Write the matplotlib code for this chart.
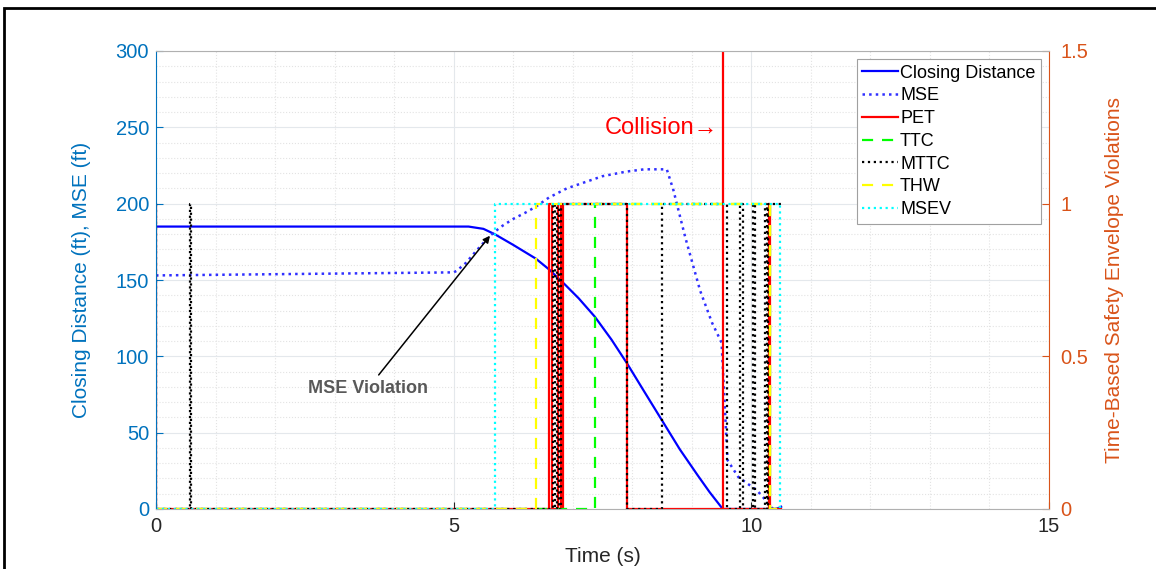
import numpy as np
import matplotlib
matplotlib.use("Agg")
import matplotlib.pyplot as plt
from matplotlib.patches import Rectangle
from matplotlib.ticker import MultipleLocator

plt.rcParams['font.family'] = ['Liberation Sans', 'DejaVu Sans']

# closing distance between vehicles (ft)
cd_t = [0, 5.25, 5.5, 5.69, 6.0, 6.38, 6.6, 6.87, 7.1, 7.37, 7.65, 7.91, 8.2, 8.5, 8.8, 9.1, 9.3, 9.52, 10.4, 10.45, 10.5]
cd_v = [185, 185, 183.5, 180, 173, 164, 157, 147, 138, 126, 111, 95.5, 77, 58, 39, 22, 11, 0, 0, 0.5, 1.5]

# minimum safety envelope (ft)
mse_t = [0, 5.0, 5.05, 5.2, 5.4, 5.61, 5.8, 6.0, 6.2, 6.38, 6.6, 6.9, 7.2, 7.5, 7.9, 8.2, 8.58,
         8.69, 8.89, 9.14, 9.34, 9.5, 9.6, 9.78, 10.1, 10.28, 10.35, 10.5]
mse_v = [153, 155, 156, 161, 170, 179, 185, 190, 194, 198, 204, 210, 214, 218, 221, 222.5, 222.5,
         209, 178, 143, 122, 109, 32, 21, 12, 4, 0.5, 0.5]

# violation flags: initial state and switching times (s)
t_end = 10.5
pet_start, pet_sw = 1, [0.0, 6.60, 6.65, 6.76, 6.80, 6.84, 7.91, 10.30, 10.32]
ttc_start, ttc_sw = 0, [7.37, 10.31]
mttc_start, mttc_sw = 1, [0.0, 0.57, 0.58, 6.67, 6.70, 6.73, 6.77, 6.81, 7.91, 8.50, 9.59,
                          9.81, 9.86, 10.03, 10.06, 10.23, 10.26, 10.28]
thw_start, thw_sw = 0, [6.38, 10.31]
msev_start, msev_sw = 0, [5.69, 10.48]

t_collision = 9.52


def steps(v0, sw, tend):
    t = [0.0]
    v = [v0]
    cur = v0
    for s in sw:
        t += [s, s]
        v += [cur, 1 - cur]
        cur = 1 - cur
    t.append(tend)
    v.append(cur)
    return t, v


blue_ax = '#0072BD'
orange_ax = '#D95319'

fig = plt.figure(figsize=(11.56, 5.69), dpi=100)
ax = fig.add_axes([156 / 1156, 60 / 569, 893 / 1156, 458 / 569])
ax2 = ax.twinx()

l1, = ax.plot(cd_t, cd_v, color='#0000FF', lw=1.6, label='Closing Distance')
l2, = ax.plot(mse_t, mse_v, color='#3030FF', lw=1.8, ls=':', label='MSE')
ax.axvline(t_collision, color='#FF0000', lw=1.6)

t, v = steps(pet_start, pet_sw, t_end)
l3, = ax2.plot(t, v, color='#FF0000', lw=1.6, label='PET')
t, v = steps(ttc_start, ttc_sw, t_end)
l4, = ax2.plot(t, v, color='#00FF00', lw=1.6, ls=(0, (5, 4)), label='TTC')
t, v = steps(mttc_start, mttc_sw, t_end)
l5, = ax2.plot(t, v, color='black', lw=1.6, ls=':', label='MTTC')
t, v = steps(thw_start, thw_sw, t_end)
l6, = ax2.plot(t, v, color='#FFFF00', lw=1.6, ls=(0, (5, 4)), label='THW')
t, v = steps(msev_start, msev_sw, t_end)
l7, = ax2.plot(t, v, color='#00FFFF', lw=1.6, ls=':', label='MSEV')

ax.set_xlim(0, 15)
ax.set_ylim(0, 300)
ax2.set_ylim(0, 1.5)
ax.set_xticks([0, 5, 10, 15])
ax.set_yticks(np.arange(0, 301, 50))
ax2.set_yticks([0, 0.5, 1, 1.5])
ax2.set_yticklabels(['0', '0.5', '1', '1.5'])
ax.xaxis.set_minor_locator(MultipleLocator(1))
ax.yaxis.set_minor_locator(MultipleLocator(10))

ax.grid(True, which='major', color='#e4e8ec', lw=0.8)
ax.grid(True, which='minor', color='#e3e3e3', lw=0.8, ls=':')
ax.set_axisbelow(True)

ax.tick_params(axis='x', which='both', direction='in', colors='#262626', labelsize=14.5, length=5, pad=6)
ax.tick_params(axis='x', which='minor', length=0)
ax.tick_params(axis='y', which='both', direction='in', colors=blue_ax, labelsize=14.5, length=5, pad=5)
ax.tick_params(axis='y', which='minor', length=0)
ax2.tick_params(axis='y', direction='in', colors=orange_ax, labelsize=14.5, length=5, pad=8)

for sp in ['top', 'bottom']:
    ax2.spines[sp].set_color('#b0b0b0')
ax2.spines['left'].set_color(blue_ax)
ax2.spines['right'].set_color(orange_ax)
for sp in ax.spines.values():
    sp.set_visible(False)

ax.set_xlabel('Time (s)', fontsize=15, color='#262626', labelpad=8)
ax.set_ylabel('Closing Distance (ft), MSE (ft)', fontsize=15, color=blue_ax, labelpad=18)
ax2.set_ylabel('Time-Based Safety Envelope Violations', fontsize=15, color=orange_ax, labelpad=12)

ax.text(9.44, 249.5, 'Collision\u2192', color='#FF0000', fontsize=17, ha='right', va='center')
ax.annotate('MSE Violation', xy=(5.61, 179), xytext=(3.56, 79), fontsize=13, fontweight='bold',
            color='#595959', ha='center', va='center',
            arrowprops=dict(arrowstyle='-|>', color='black', lw=1.1, mutation_scale=10, shrinkA=2, shrinkB=0))

leg = ax2.legend(handles=[l1, l2, l3, l4, l5, l6, l7], loc='upper right', fontsize=13,
                 fancybox=False, edgecolor='#a0a0a0', framealpha=1, labelspacing=0.32,
                 handlelength=2.0, handletextpad=0.1, borderpad=0.3, borderaxespad=0.45)
leg.get_frame().set_linewidth(0.8)

# outer border
fig.add_artist(Rectangle((4 / 1156, -0.1), 1.2, 1.1 - 8 / 569, transform=fig.transFigure,
                         fill=False, lw=2, ec='black'))

fig.savefig('out.png', dpi=100)
